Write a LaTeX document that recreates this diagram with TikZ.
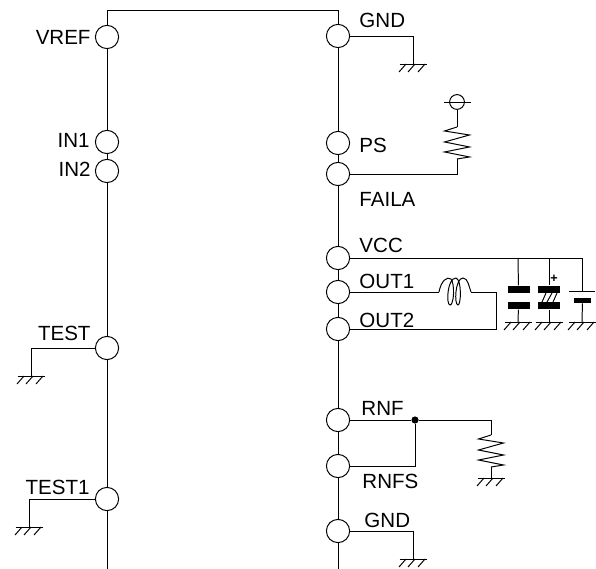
\documentclass[tikz,border=0pt]{standalone}
\usepackage{fontspec}
\setmainfont{Liberation Sans}
\usepackage{tikz}
\tikzset{
  pin/.style = {draw, circle, fill = white, inner sep = 0pt, minimum size = 0.58cm},
  lbl/.style = {inner sep = 0pt, font = \fontsize{14.6}{15}\selectfont},
  plate/.style = {fill = black, inner sep = 0pt, minimum width = 0.55cm, minimum height = 0.18cm},
  gndsym/.pic = {
    \draw (-13.5, 0) -- (13.5, 0);
    \draw (-7, 0) -- (-14, 8);
    \draw (2, 0) -- (-5, 8);
    \draw (12, 0) -- (5, 8);
  },
  ressym/.pic = {
    \draw (0, 0) -- (-12.5, 4) -- (12.5, 8) -- (-12.5, 15) -- (12.5, 20) -- (-12.5, 25) -- (12.5, 30) -- (0, 32);
  }
}
\begin{document}
\begin{tikzpicture}[x = 0.025cm, y = -0.025cm, line width = 0.7pt]
\useasboundingbox (0, 0) rectangle (596, 569);
\draw (107, 569) -- (107, 10) -- (338, 10) -- (338, 569);
\node[pin] (vref) at (107, 37) {};
\node[pin] (inone) at (107, 142) {};
\node[pin] (intwo) at (107, 171) {};
\node[pin] (test) at (107, 348) {};
\node[pin] (testone) at (107, 499) {};
\node[pin] (gnda) at (338, 36) {};
\node[pin] (ps) at (338, 143) {};
\node[pin] (faila) at (338, 174) {};
\node[pin] (vcc) at (338, 258) {};
\node[pin] (outone) at (338, 292) {};
\node[pin] (outtwo) at (338, 329) {};
\node[pin] (rnf) at (338, 420) {};
\node[pin] (rnfs) at (338, 466) {};
\node[pin] (gndb) at (338, 531) {};
% pin labels
\node[lbl, anchor = base east] (vreflbl) at (91, 45) {VREF};
\node[lbl, anchor = base east] (inonelbl) at (90, 148) {IN1};
\node[lbl, anchor = base east] (intwolbl) at (91, 177) {IN2};
\node[lbl, anchor = base east] (testlbl) at (91, 341) {TEST};
\node[lbl, anchor = base east] (testonelbl) at (90, 494) {TEST1};
\node[lbl, anchor = base west] (gndalbl) at (359, 28) {GND};
\node[lbl, anchor = base west] (pslbl) at (359, 153) {PS};
\node[lbl, anchor = base west] (failalbl) at (359, 207) {FAILA};
\node[lbl, anchor = base west] (vcclbl) at (359, 253) {VCC};
\node[lbl, anchor = base west] (outonelbl) at (359, 289) {OUT1};
\node[lbl, anchor = base west] (outtwolbl) at (359, 327) {OUT2};
\node[lbl, anchor = base west] (rnflbl) at (361, 415) {RNF};
\node[lbl, anchor = base west] (rnfslbl) at (362, 488) {RNFS};
\node[lbl, anchor = base west] (gndblbl) at (364, 527) {GND};
% ground wires
\coordinate (gndatop) at (413, 64);
\coordinate (gndbtop) at (413, 559);
\coordinate (testgnd) at (31, 376);
\coordinate (testonegnd) at (29, 527);
\draw (gnda) -| (gndatop) pic {gndsym};
\draw (gndb) -| (gndbtop) pic {gndsym};
\draw (test) -| (testgnd) pic {gndsym};
\draw (testone) -| (testonegnd) pic {gndsym};
% PS pull-up
\node[draw, circle, inner sep = 0pt, minimum size = 0.37cm] (vsrc) at (457, 102) {};
\draw ([xshift = -0.14cm]vsrc.west) -- ([xshift = 0.14cm]vsrc.east);
\coordinate (pullhi) at (457, 127);
\coordinate (pulllo) at (457, 159);
\draw (vsrc) -- (pullhi) pic {ressym};
\draw (faila) -| (pulllo);
% supply rail
\coordinate (joina) at (518, 258);
\coordinate (joinb) at (549, 258);
\coordinate (joinc) at (582, 258);
\draw (vcc) -- (joinc) -- (582, 291);
\node[plate] (capaup) at (518.5, 289.5) {};
\node[plate] (capalo) at (518.5, 305.5) {};
\node[plate] (capbup) at (549, 289.5) {};
\node[plate] (capblo) at (549, 305.5) {};
\node[inner sep = 0pt, font = \fontsize{9}{9}\selectfont\bfseries] (plus) at (554, 279) {+};
\node[fill = black, inner sep = 0pt, minimum width = 0.65cm, minimum height = 0.7pt] (batlong) at (582, 291) {};
\node[fill = black, inner sep = 0pt, minimum width = 0.42cm, minimum height = 0.125cm] (batshort) at (582.5, 300.5) {};
\coordinate (gndca) at (518, 322);
\coordinate (gndcb) at (549, 322);
\coordinate (gndcc) at (582, 322);
\draw (joina) -- (capaup);
\draw (capalo) -- (gndca) pic {gndsym};
\draw (joinb) -- (capbup);
\draw (capblo) -- (gndcb) pic {gndsym};
\draw (batshort) -- (gndcc) pic {gndsym};
\draw (546, 293) -- (542, 302);
\draw (552, 293) -- (547, 302);
\draw (557, 293) -- (553, 302);
% coil between OUT1 and OUT2
\coordinate (coilin) at (439, 292);
\coordinate (coilout) at (471, 292);
\coordinate (outjoin) at (496, 292);
\draw (outone) -- (coilin);
\draw (coilin) .. controls (441, 281) and (447, 276) .. (451, 279)
  .. controls (455, 284) and (454, 305) .. (450, 305)
  .. controls (446, 305) and (447, 278) .. (456, 278)
  .. controls (462, 280) and (461, 305) .. (458, 305)
  .. controls (454, 305) and (455, 278) .. (463, 278)
  .. controls (468, 278) and (469, 287) .. (coilout);
\draw (coilout) -- (outjoin) |- (outtwo);
% sense resistor
\node[fill = black, circle, inner sep = 0pt, minimum size = 0.18cm] (dot) at (415, 420) {};
\coordinate (senseturn) at (491, 420);
\coordinate (sensehi) at (491, 435);
\coordinate (senselo) at (491, 467);
\coordinate (gndsense) at (491, 478);
\draw (rnf) -- (dot) -- (senseturn) -- (sensehi) pic {ressym};
\draw (rnfs) -| (dot);
\draw (senselo) -- (gndsense) pic {gndsym};
\end{tikzpicture}
\end{document}
